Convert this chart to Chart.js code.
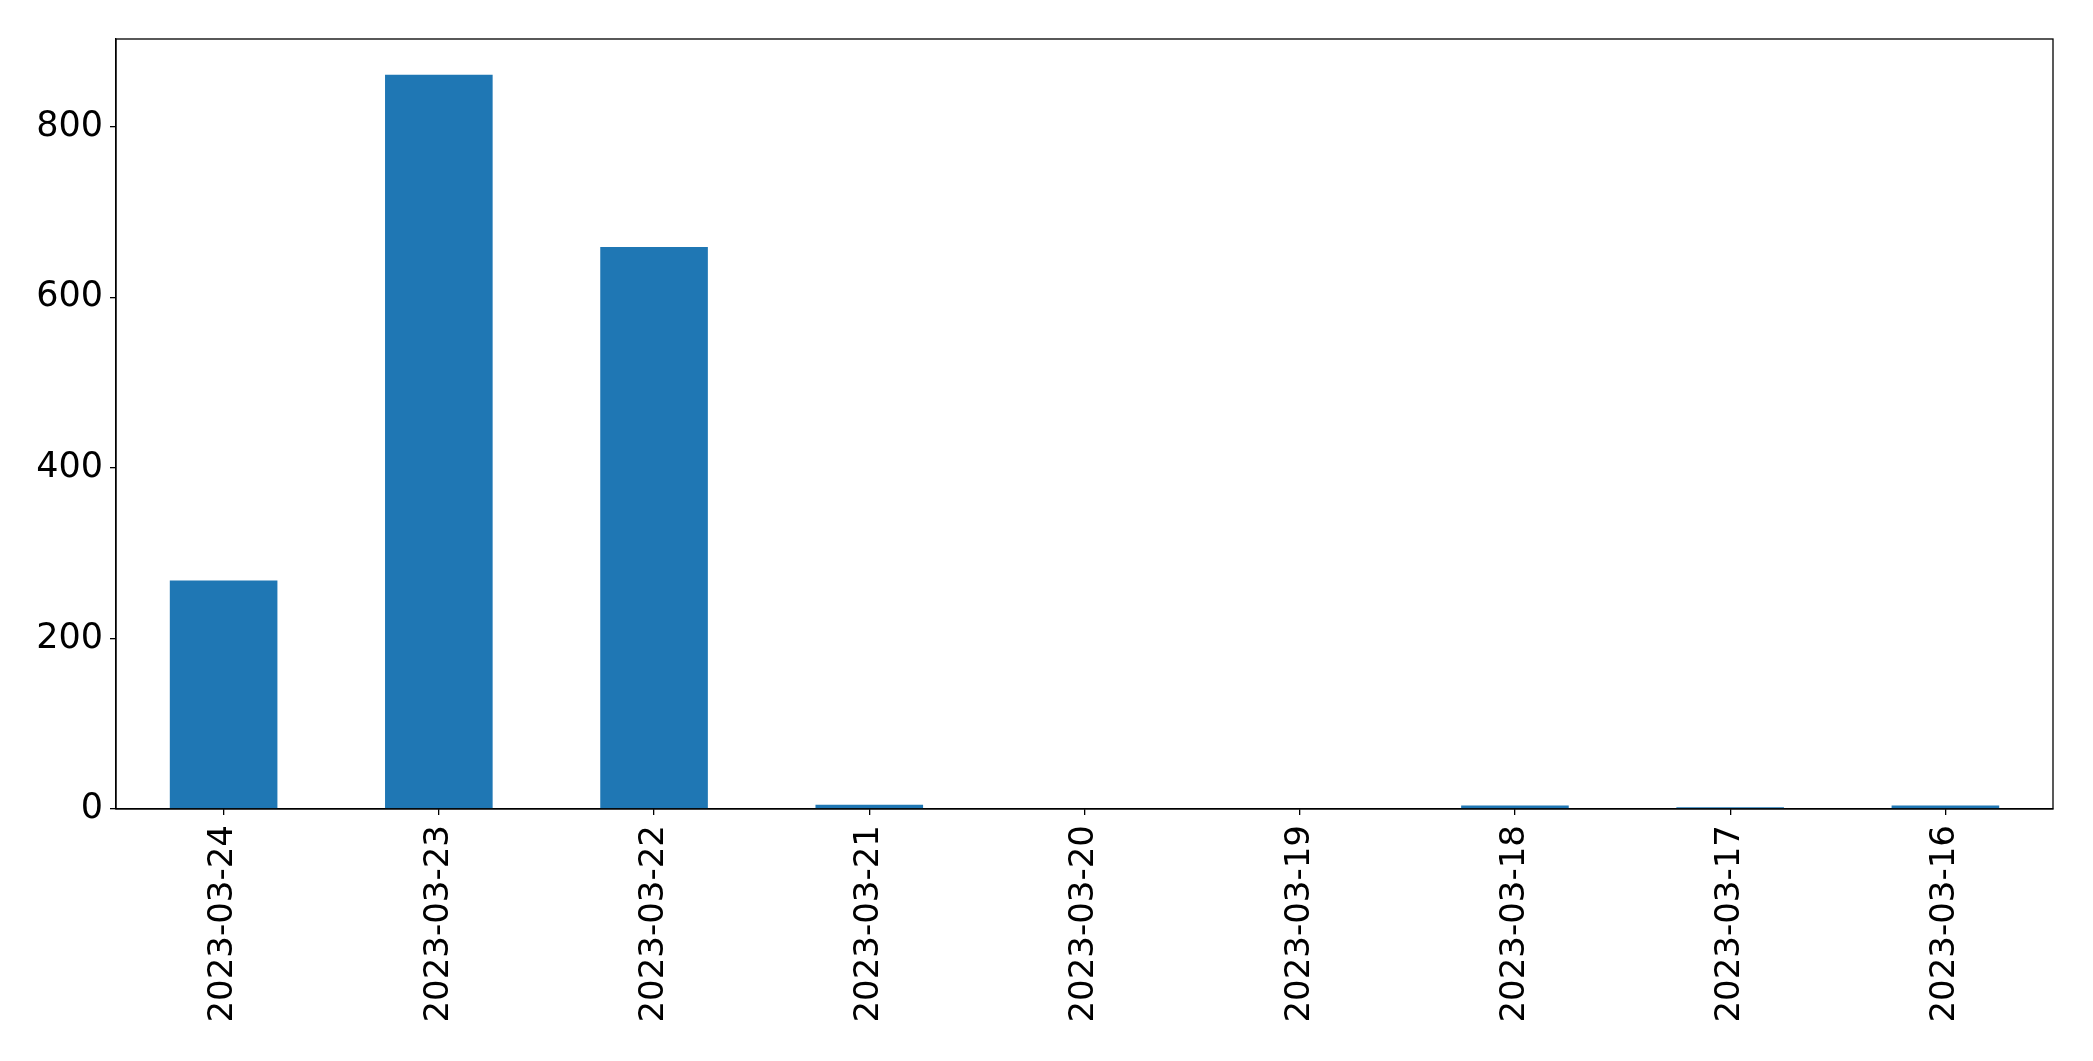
<!DOCTYPE html>
<html>
<head>
<meta charset="utf-8">
<script src="https://cdn.jsdelivr.net/npm/chart.js@4"></script>
<style>
  html, body { margin: 0; padding: 0; background: #fff; }
</style>
</head>
<body>
<canvas id="barChart" width="2093" height="1061"></canvas>
<script>
// data
const dates = ['2023-03-24', '2023-03-23', '2023-03-22', '2023-03-21', '2023-03-20',
               '2023-03-19', '2023-03-18', '2023-03-17', '2023-03-16'];
const counts = [268, 861, 659, 5, 1, 1, 4, 2, 4];
const yTicks = [0, 200, 400, 600, 800];

// box around the plot area, like matplotlib's spines
const frame = {
    id: 'frame',
    afterDraw(chart) {
        const a = chart.chartArea;
        const ctx = chart.ctx;
        ctx.save();
        ctx.strokeStyle = '#000';
        ctx.lineWidth = 1.3;
        ctx.strokeRect(a.left, a.top, a.right - a.left, a.bottom - a.top);
        ctx.restore();
    }
};

new Chart(document.getElementById('barChart').getContext('2d'), {
    type: 'bar',
    data: {
        labels: dates,
        datasets: [{
            data: counts,
            backgroundColor: '#1f77b4',
            borderWidth: 0,
            categoryPercentage: 0.5,
            barPercentage: 1.0
        }]
    },
    options: {
        responsive: false,
        animation: false,
        devicePixelRatio: 1,
        layout: { padding: { top: 39, right: 40, left: 0, bottom: 0 } },
        plugins: { legend: { display: false }, tooltip: { enabled: false } },
        scales: {
            x: {
                offset: true,
                grid: { offset: false, drawOnChartArea: false, drawTicks: true, tickLength: 6, color: '#000', lineWidth: 1.3 },
                border: { display: true, color: '#000', width: 1.3 },
                ticks: {
                    color: '#000',
                    font: { family: 'DejaVu Sans', size: 34 },
                    minRotation: 90,
                    maxRotation: 90,
                    padding: 10
                },
                afterFit(scale) { scale.height = 252; }
            },
            y: {
                min: 0,
                max: 903,
                afterBuildTicks(scale) { scale.ticks = yTicks.map(v => ({ value: v })); },
                grid: { drawOnChartArea: false, drawTicks: true, tickLength: 6, color: '#000', lineWidth: 1.3 },
                border: { display: true, color: '#000', width: 1.3 },
                ticks: {
                    color: '#000',
                    font: { family: 'DejaVu Sans', size: 35 },
                    padding: 7
                },
                afterFit(scale) { scale.width = 116; }
            }
        }
    },
    plugins: [frame]
});
</script>
</body>
</html>
